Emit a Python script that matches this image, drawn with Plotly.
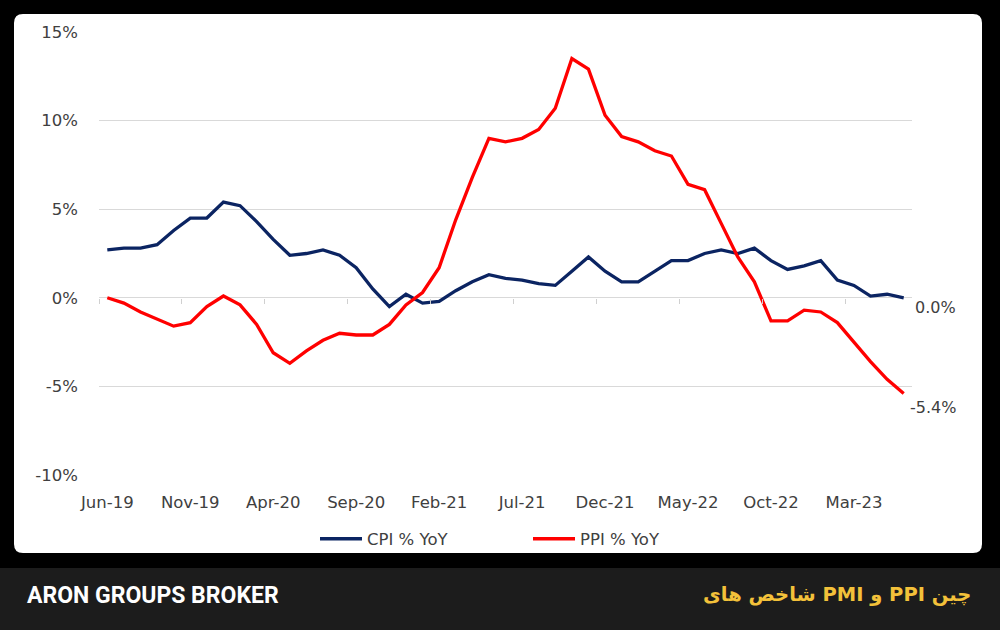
import plotly.graph_objects as go
import pandas as pd

# ---- data ----
months = [d.strftime('%b-%y') for d in pd.date_range('2019-06-01', '2023-06-01', freq='MS')]
cpi = [2.7, 2.8, 2.8, 3.0, 3.8, 4.5, 4.5, 5.4, 5.2, 4.3, 3.3, 2.4, 2.5, 2.7, 2.4, 1.7, 0.5, -0.5,
       0.2, -0.3, -0.2, 0.4, 0.9, 1.3, 1.1, 1.0, 0.8, 0.7, 1.5, 2.3, 1.5, 0.9, 0.9, 1.5, 2.1, 2.1,
       2.5, 2.7, 2.5, 2.8, 2.1, 1.6, 1.8, 2.1, 1.0, 0.7, 0.1, 0.2, 0.0]
ppi = [0.0, -0.3, -0.8, -1.2, -1.6, -1.4, -0.5, 0.1, -0.4, -1.5, -3.1, -3.7, -3.0, -2.4, -2.0,
       -2.1, -2.1, -1.5, -0.4, 0.3, 1.7, 4.4, 6.8, 9.0, 8.8, 9.0, 9.5, 10.7, 13.5, 12.9, 10.3,
       9.1, 8.8, 8.3, 8.0, 6.4, 6.1, 4.2, 2.3, 0.9, -1.3, -1.3, -0.7, -0.8, -1.4, -2.5, -3.6,
       -4.6, -5.4]
tick_labels = months[::5]
y_ticks = [-10, -5, 0, 5, 10, 15]
y_tick_text = ['-10%', '-5%', '0%', '5%', '10%', '15%']
series_names = ['CPI % YoY', 'PPI % YoY']
footer_left = 'ARON GROUPS BROKER'
footer_right = 'شاخص های PMI و PPI چین'

# ---- layout geometry (pixels) ----
W, H = 1000, 630
L, R, T, B = 99, 912, 32, 475

def px(x):
    return (x - L) / (R - L)

def py(y):
    return (B - y) / (B - T)

FONT = 'DejaVu Sans'
GREY = '#404040'
FS = 16.5

fig = go.Figure()
fig.add_trace(go.Scatter(x=months, y=cpi, mode='lines', name=series_names[0],
                         line=dict(color='#0b2462', width=3.3)))
fig.add_trace(go.Scatter(x=months, y=ppi, mode='lines', name=series_names[1],
                         line=dict(color='#ff0000', width=3.3)))
# empty helper trace so the tick-only axis on the zero line is drawn
fig.add_trace(go.Scatter(x=[], y=[], xaxis='x2', showlegend=False, hoverinfo='skip'))

def rounded(x0, y0, x1, y1, r):
    X = px
    Y = py
    return (f"M {X(x0+r)},{Y(y0)} L {X(x1-r)},{Y(y0)} Q {X(x1)},{Y(y0)} {X(x1)},{Y(y0+r)} "
            f"L {X(x1)},{Y(y1-r)} Q {X(x1)},{Y(y1)} {X(x1-r)},{Y(y1)} "
            f"L {X(x0+r)},{Y(y1)} Q {X(x0)},{Y(y1)} {X(x0)},{Y(y1-r)} "
            f"L {X(x0)},{Y(y0+r)} Q {X(x0)},{Y(y0)} {X(x0+r)},{Y(y0)} Z")

shapes = [
    dict(type='path', xref='paper', yref='paper', path=rounded(14, 14, 982, 553, 9),
         fillcolor='white', line=dict(width=0), layer='below'),
    dict(type='rect', xref='paper', yref='paper', x0=px(0), x1=px(1000), y0=py(568), y1=py(630),
         fillcolor='#1c1c1c', line=dict(width=0), layer='below'),
]

annotations = [
    dict(xref='paper', yref='y', x=px(958), y=cpi[-1], text=f'{cpi[-1]:.1f}%', showarrow=False,
         xanchor='right', yanchor='middle', yshift=-10, font=dict(family=FONT, size=16, color=GREY)),
    dict(xref='paper', yref='y', x=px(958), y=ppi[-1], text=f'{ppi[-1]:.1f}%', showarrow=False,
         xanchor='right', yanchor='middle', yshift=-14, font=dict(family=FONT, size=16, color=GREY)),
    dict(xref='paper', yref='paper', x=px(25), y=py(595), text=f'<b>{footer_left}</b>', showarrow=False,
         xanchor='left', yanchor='middle', font=dict(family='Roboto', size=23, color='white')),
    dict(xref='paper', yref='paper', x=px(973), y=py(594), text=f'<b>{footer_right}</b>', showarrow=False,
         xanchor='right', yanchor='middle', font=dict(family='DejaVu Sans', size=19.5, color='#f3c13a')),
]

fig.update_layout(
    width=W, height=H,
    margin=dict(l=L, r=W - R, t=T, b=H - B),
    paper_bgcolor='#000000',
    plot_bgcolor='rgba(0,0,0,0)',
    shapes=shapes,
    annotations=annotations,
    showlegend=True,
    legend=dict(orientation='h', x=px(528), xanchor='center', y=py(539), yanchor='middle',
                itemwidth=42, entrywidth=156,
                font=dict(family=FONT, size=FS, color=GREY), bgcolor='rgba(0,0,0,0)'),
    xaxis=dict(type='category', range=[-0.5, len(months) - 0.5], tickmode='array',
               tickvals=tick_labels, ticktext=tick_labels, showgrid=False, zeroline=False,
               showline=False, ticks='', ticklabelstandoff=15,
               tickfont=dict(family=FONT, size=FS, color=GREY)),
    xaxis2=dict(overlaying='x', anchor='free', position=py(298), side='bottom',
                range=[-0.5, len(months) - 0.5], tickmode='array',
                tickvals=[i - 0.5 for i in range(0, len(months) - 1, 5)],
                showticklabels=False, ticks='outside', ticklen=5, tickcolor='#d0d0d0', tickwidth=1,
                showgrid=False, zeroline=False, showline=False),
    yaxis=dict(range=[-10, 15], tickmode='array', tickvals=y_ticks, ticktext=y_tick_text,
               showgrid=True, gridcolor='#d9d9d9', gridwidth=1, zeroline=False, showline=False,
               ticks='', ticklabelstandoff=20, tickfont=dict(family=FONT, size=FS, color=GREY)),
)

fig.write_html('out.html', config={'displayModeBar': False}, post_script=(
    "document.body.style.margin='0';document.body.style.overflow='hidden';"
    "document.body.style.background='#000';"))
